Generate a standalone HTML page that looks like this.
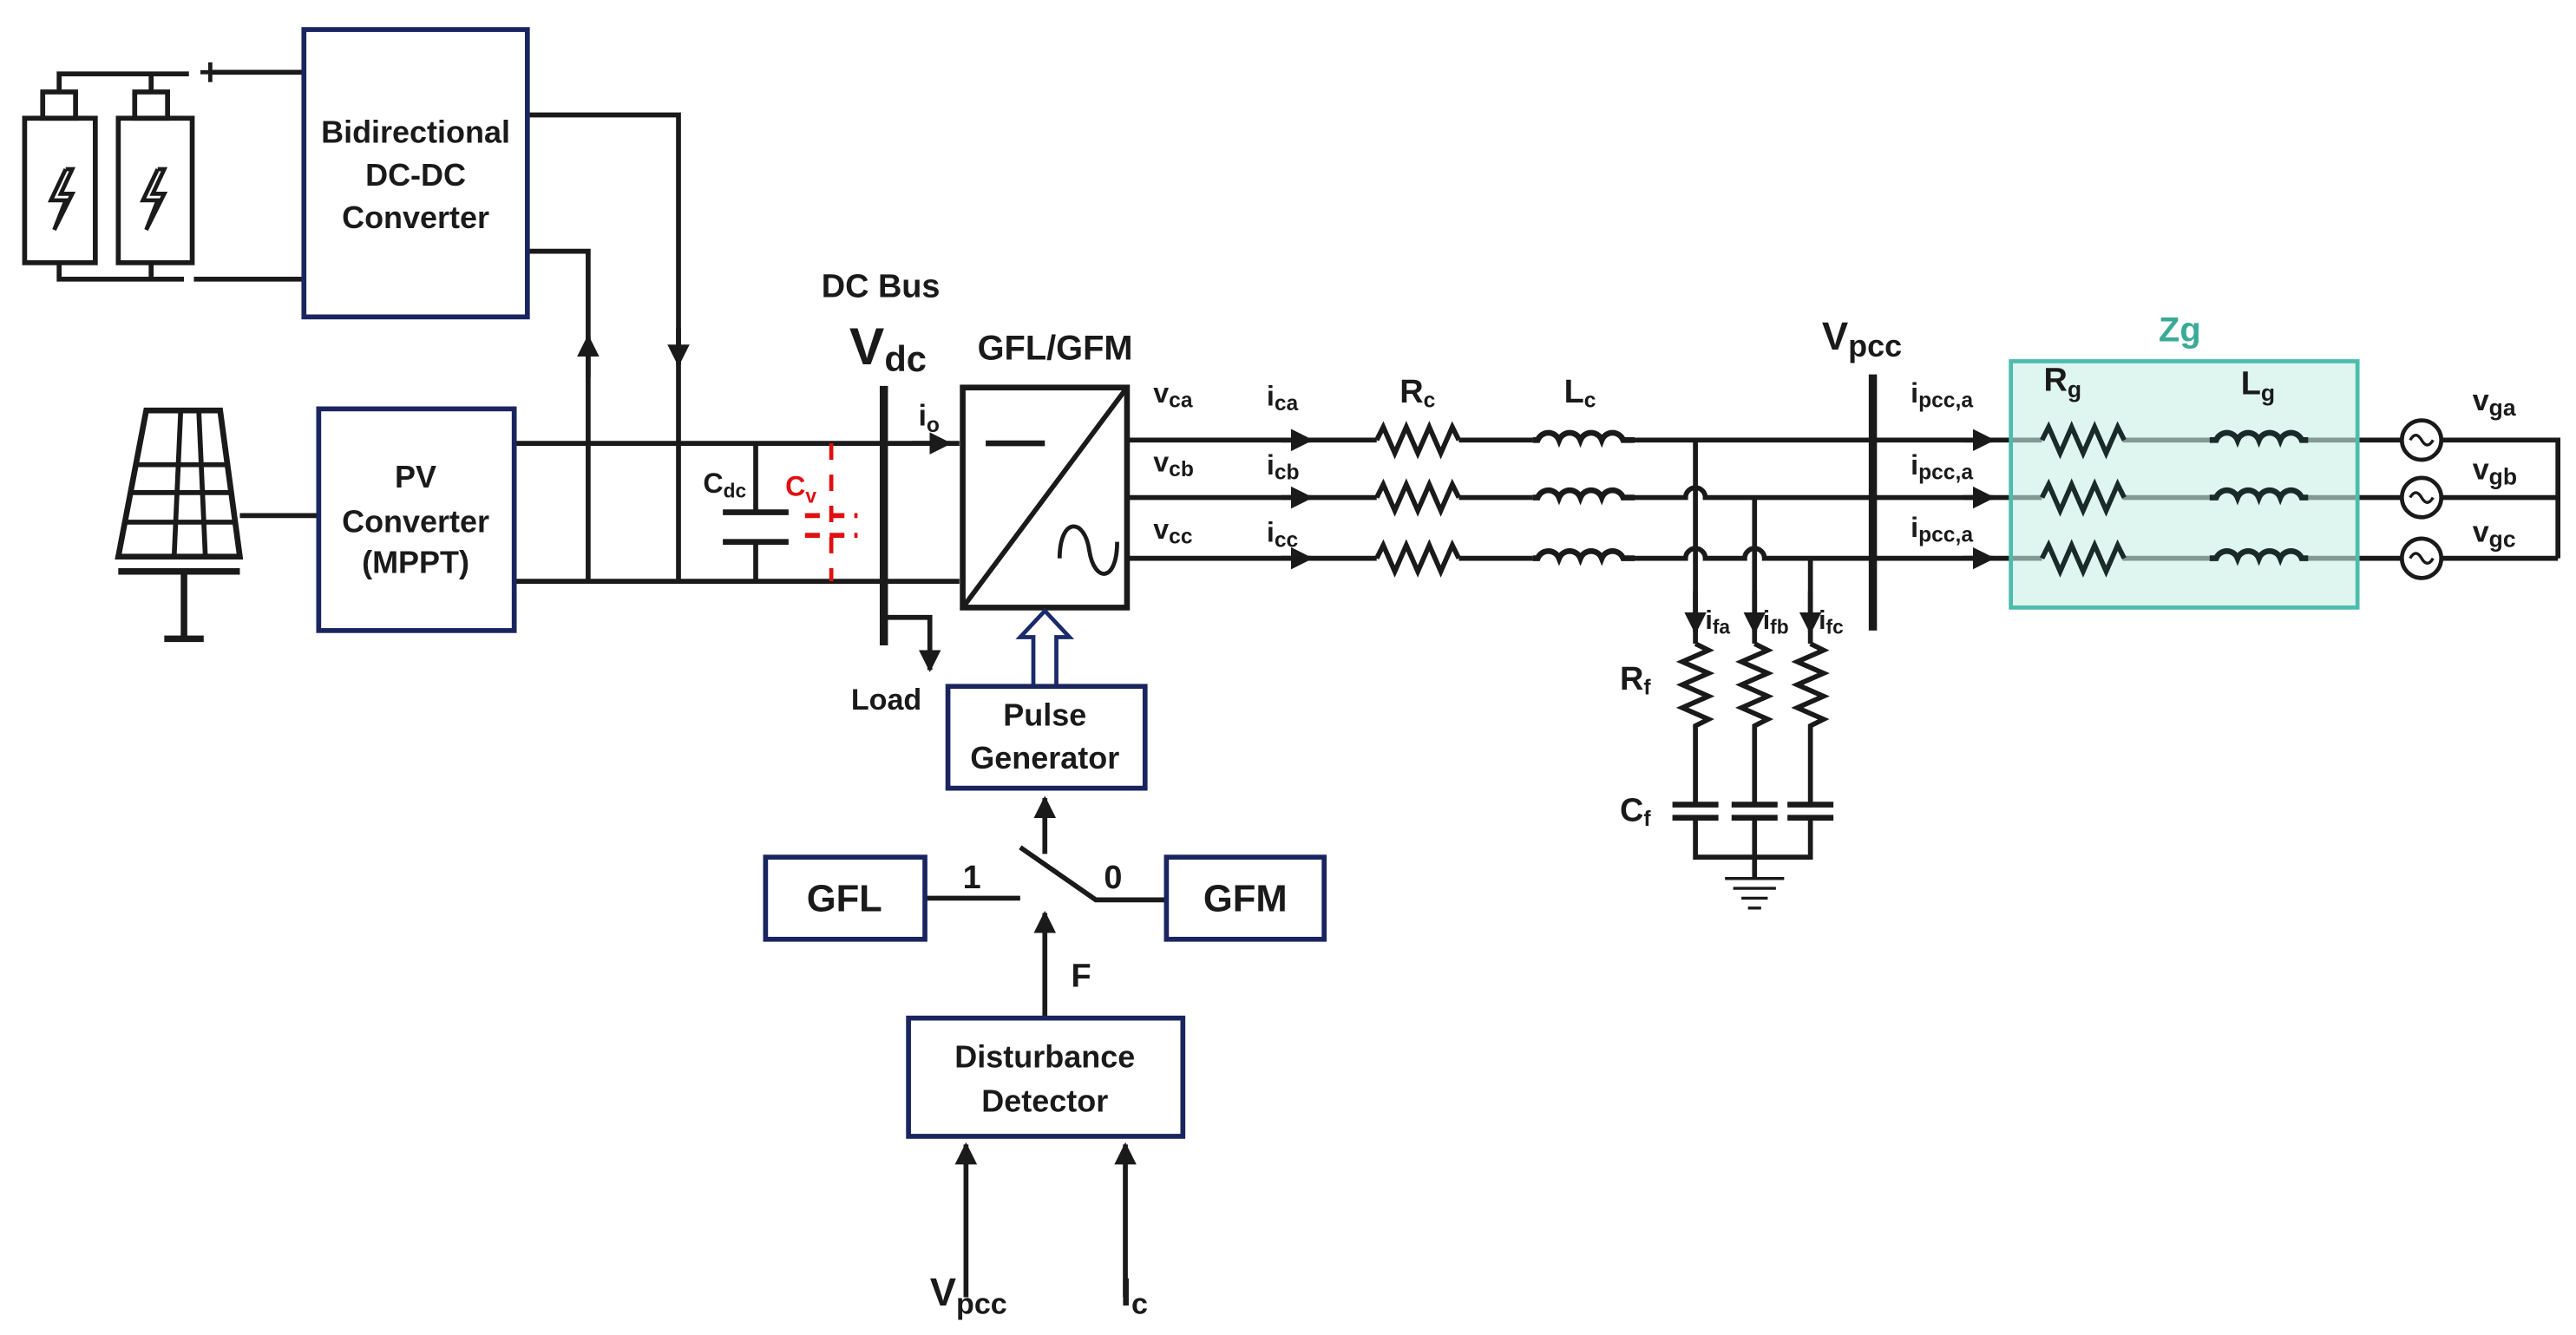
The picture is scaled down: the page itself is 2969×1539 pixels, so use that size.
<!DOCTYPE html>
<html><head><meta charset="utf-8"><style>
html,body{margin:0;padding:0;background:#fff;}
svg{display:block;}
text{font-family:"Liberation Sans",Arial,sans-serif;font-weight:bold;fill:#1a1a1a;}
</style></head><body>
<svg width="2969" height="1539" viewBox="0 0 1568 813" preserveAspectRatio="none" xmlns="http://www.w3.org/2000/svg">
<defs>
<marker id="ar" viewBox="0 0 10 10" refX="9" refY="5" markerWidth="4.5" markerHeight="4.5" orient="auto"><path d="M0,0 L10,5 L0,10 z" fill="#1a1a1a"/></marker>
</defs>
<g stroke="#1a1a1a" stroke-width="3" fill="none">
<!-- batteries -->
<rect x="15" y="72" width="43" height="88"/>
<rect x="72" y="72" width="45" height="88"/>
<rect x="26" y="56" width="20" height="16"/>
<rect x="82" y="56" width="20" height="16"/>
<path d="M36 56 V45 H115 M92 45 V56"/>
<path d="M127 44 H185"/>
<path d="M36 160 V170 H112 M92 160 V170 M118 170 H185"/>
<path d="M122 44 H134 M128 38 V50" stroke-width="2.5"/>
<path d="M40 103 L31 122 H40 L33 140 M40 103 L44 103 L37 118 H44 L33 140" stroke-width="2.5"/>
<path d="M96 103 L87 122 H96 L89 140 M96 103 L100 103 L93 118 H100 L89 140" stroke-width="2.5"/>
<!-- solar -->
<path d="M89 250 H134 L146 339 H72 Z" stroke-width="3.5"/>
<path d="M83 283 H138 M80 300 H141 M76 318 H143 M110 250 L106 339 M121 250 L125 339" stroke-width="3"/>
<path d="M72 348 H146 M112 348 V388 M100 389 H124" stroke-width="4"/>
<path d="M146 314 H194"/>
<!-- DC wires -->
<path d="M313 270 H584"/>
<path d="M313 354 H584"/>
<path d="M321 70 H413 V354"/>
<path d="M413 200 V222" marker-end="url(#ar)"/>
<path d="M321 153 H358 V354"/>
<path d="M358 230 V205" marker-end="url(#ar)"/>
<path d="M460 270 V312 M460 330 V354"/>
<path d="M440 312 H480 M440 330 H480" stroke-width="3.5"/>
<path d="M506 270 V354" stroke="#e01010" stroke-dasharray="10,9" stroke-width="2.5"/>
<path d="M490 314 H522 M490 326 H522" stroke="#e01010" stroke-dasharray="9,6" stroke-width="3"/>
<path d="M538 235 V393" stroke-width="5"/>
<path d="M555 270 H578" marker-end="url(#ar)"/>
<path d="M540 376 H566 V408" marker-end="url(#ar)"/>
<!-- converter -->
<rect x="586" y="236" width="100" height="134" stroke-width="3.5"/>
<path d="M586 370 L686 236" stroke-width="3"/>
<path d="M600 270 H636" stroke-width="3.5"/>
<path d="M645 340 C645 315 660 315 663 335 C666 355 680 355 680 330" stroke-width="2.5"/>
<!-- hollow arrow -->
<path d="M629 418 V388 H621 L636 372 L651 388 H643 V418" stroke="#1a2a6a" stroke-width="2.5" fill="#fff"/>
<!-- switch -->
<path d="M636 520 V486" marker-end="url(#ar)"/>
<path d="M563 547 H621"/>
<path d="M621 516 L667 548 H710"/>
<path d="M636 620 V556" marker-end="url(#ar)"/>
<path d="M588 790 V697" marker-end="url(#ar)"/>
<path d="M685 790 V697" marker-end="url(#ar)"/>
<!-- phase lines -->
<path d="M686 268 H838 M888 268 H933 M995 268 H1140 M1140 268 H1243 M1292 268 H1345 M1405 268 H1462 M1486 268 H1557 V340"/>
<path d="M686 303 H838 M888 303 H933 M995 303 H1026 a6 6 0 0 1 12 0 H1140 H1243 M1292 303 H1345 M1405 303 H1462 M1486 303 H1557"/>
<path d="M686 340 H838 M888 340 H933 M995 340 H1026 a6 6 0 0 1 12 0 H1062 a6 6 0 0 1 12 0 H1243 M1292 340 H1345 M1405 340 H1462 M1486 340 H1557"/>
<path d="M780 268 H798" marker-end="url(#ar)"/>
<path d="M780 303 H798" marker-end="url(#ar)"/>
<path d="M780 340 H798" marker-end="url(#ar)"/>
<path d="M1195 268 H1213" marker-end="url(#ar)"/>
<path d="M1195 303 H1213" marker-end="url(#ar)"/>
<path d="M1195 340 H1213" marker-end="url(#ar)"/>
<!-- Rc -->
<path d="M838 268 l4 -8 l7 16 l7 -16 l7 16 l7 -16 l7 16 l7 -16 l4 8 M838 303 l4 -8 l7 16 l7 -16 l7 16 l7 -16 l7 16 l7 -16 l4 8 M838 340 l4 -8 l7 16 l7 -16 l7 16 l7 -16 l7 16 l7 -16 l4 8"/>
<!-- Lc -->
<path d="M933 268 h3 a7 7 0 0 1 13 0 a7 7 0 0 1 13 0 a7 7 0 0 1 13 0 a7 7 0 0 1 13 0 h7 M933 303 h3 a7 7 0 0 1 13 0 a7 7 0 0 1 13 0 a7 7 0 0 1 13 0 a7 7 0 0 1 13 0 h7 M933 340 h3 a7 7 0 0 1 13 0 a7 7 0 0 1 13 0 a7 7 0 0 1 13 0 a7 7 0 0 1 13 0 h7" stroke-width="3.5"/>
<!-- filter -->
<path d="M1032 268 V392 M1068 303 V392 M1102 340 V392"/>
<path d="M1032 360 V385" marker-end="url(#ar)"/>
<path d="M1068 360 V385" marker-end="url(#ar)"/>
<path d="M1102 360 V385" marker-end="url(#ar)"/>
<path d="M1032 392 l8 4 l-16 7 l16 7 l-16 7 l16 7 l-16 7 l16 7 l-8 4 V490 M1068 392 l8 4 l-16 7 l16 7 l-16 7 l16 7 l-16 7 l16 7 l-8 4 V490 M1102 392 l8 4 l-16 7 l16 7 l-16 7 l16 7 l-16 7 l16 7 l-8 4 V490"/>
<path d="M1018 490 H1046 M1018 498 H1046 M1054 490 H1082 M1054 498 H1082 M1088 490 H1116 M1088 498 H1116" stroke-width="3.5"/>
<path d="M1032 498 V522 H1102 V498 M1068 498 V535"/>
<path d="M1050 535 H1086 M1055 541 H1081 M1060 547 H1076 M1064 553 H1072" stroke-width="1.8"/>
<path d="M1140 228 V384" stroke-width="5"/>
</g>
<!-- Zg box -->
<rect x="1224" y="220" width="211" height="150" fill="#c9eee6" fill-opacity="0.6" stroke="#4cbcad" stroke-width="2.5"/>
<g stroke="#1a2a28" stroke-width="3" fill="none">
<path d="M1243 268 l4 -8 l7 16 l7 -16 l7 16 l7 -16 l7 16 l7 -16 l4 8 M1243 303 l4 -8 l7 16 l7 -16 l7 16 l7 -16 l7 16 l7 -16 l4 8 M1243 340 l4 -8 l7 16 l7 -16 l7 16 l7 -16 l7 16 l7 -16 l4 8"/>
<path d="M1345 268 h4 a7 7 0 0 1 13 0 a7 7 0 0 1 13 0 a7 7 0 0 1 13 0 a7 7 0 0 1 13 0 h4 M1345 303 h4 a7 7 0 0 1 13 0 a7 7 0 0 1 13 0 a7 7 0 0 1 13 0 a7 7 0 0 1 13 0 h4 M1345 340 h4 a7 7 0 0 1 13 0 a7 7 0 0 1 13 0 a7 7 0 0 1 13 0 a7 7 0 0 1 13 0 h4" stroke-width="3.5"/>
</g>
<g stroke="#1a1a1a" stroke-width="2.5" fill="none">
<circle cx="1474" cy="268" r="12"/><circle cx="1474" cy="303" r="12"/><circle cx="1474" cy="340" r="12"/>
<path d="M1467 268 q3.5 -6 7 0 q3.5 6 7 0 M1467 303 q3.5 -6 7 0 q3.5 6 7 0 M1467 340 q3.5 -6 7 0 q3.5 6 7 0" stroke-width="1.8"/>
</g>
<!-- blue boxes -->
<g stroke="#1a2560" stroke-width="3" fill="none">
<rect x="185" y="18" width="136" height="175"/>
<rect x="194" y="249" width="119" height="135"/>
<rect x="577" y="418" width="120" height="62"/>
<rect x="466" y="522" width="97" height="50"/>
<rect x="710" y="522" width="96" height="50"/>
<rect x="553" y="620" width="167" height="72"/>
</g>
<!-- text -->
<g font-size="19" text-anchor="middle">
<text x="253" y="87">Bidirectional</text>
<text x="253" y="113">DC-DC</text>
<text x="253" y="139">Converter</text>
<text x="253" y="297">PV</text>
<text x="253" y="324">Converter</text>
<text x="253" y="349">(MPPT)</text>
<text x="636" y="442">Pulse</text>
<text x="636" y="468">Generator</text>
<text x="636" y="650">Disturbance</text>
<text x="636" y="677">Detector</text>
<text x="514" y="555" font-size="23">GFL</text>
<text x="758" y="555" font-size="23">GFM</text>
</g>
<g font-size="20">
<text x="500" y="181">DC Bus</text>
<text x="517" y="222" font-size="32">V<tspan font-size="22" dy="4">dc</tspan></text>
<text x="595" y="219" font-size="21">GFL/GFM</text>
<text x="559" y="259" font-size="18">i<tspan font-size="13" dy="4">o</tspan></text>
<text x="518" y="432" font-size="18">Load</text>
<text x="586" y="541">1</text>
<text x="672" y="541">0</text>
<text x="652" y="601">F</text>
<text x="566" y="795" font-size="24">V<tspan font-size="18" dy="5">pcc</tspan></text>
<text x="682" y="795" font-size="24">I<tspan font-size="18" dy="5">c</tspan></text>
<text x="428" y="300" font-size="17">C<tspan font-size="12" dy="3">dc</tspan></text>
<text x="478" y="302" font-size="17" style="fill:#e01010">C<tspan font-size="12" dy="4">v</tspan></text>
<text x="702" y="245" font-size="17">v<tspan font-size="13" dy="3">ca</tspan></text>
<text x="702" y="287" font-size="17">v<tspan font-size="13" dy="3">cb</tspan></text>
<text x="702" y="328" font-size="17">v<tspan font-size="13" dy="3">cc</tspan></text>
<text x="771" y="247" font-size="17">i<tspan font-size="13" dy="3">ca</tspan></text>
<text x="771" y="289" font-size="17">i<tspan font-size="13" dy="3">cb</tspan></text>
<text x="771" y="330" font-size="17">i<tspan font-size="13" dy="3">cc</tspan></text>
<text x="852" y="245">R<tspan font-size="13" dy="3">c</tspan></text>
<text x="952" y="245">L<tspan font-size="13" dy="3">c</tspan></text>
<text x="1109" y="213" font-size="24">V<tspan font-size="19" dy="4">pcc</tspan></text>
<text x="1038" y="383" font-size="16">i<tspan font-size="12" dy="3">fa</tspan></text>
<text x="1073" y="383" font-size="16">i<tspan font-size="12" dy="3">fb</tspan></text>
<text x="1107" y="383" font-size="16">i<tspan font-size="12" dy="3">fc</tspan></text>
<text x="986" y="420">R<tspan font-size="13" dy="3">f</tspan></text>
<text x="986" y="500">C<tspan font-size="13" dy="3">f</tspan></text>
<text x="1163" y="245" font-size="17">i<tspan font-size="13" dy="3">pcc,a</tspan></text>
<text x="1163" y="289" font-size="17">i<tspan font-size="13" dy="3">pcc,a</tspan></text>
<text x="1163" y="327" font-size="17">i<tspan font-size="13" dy="3">pcc,a</tspan></text>
<text x="1314" y="208" font-size="21" style="fill:#3aaa98">Zg</text>
<text x="1244" y="238">R<tspan font-size="14" dy="4">g</tspan></text>
<text x="1364" y="240">L<tspan font-size="14" dy="4">g</tspan></text>
<text x="1505" y="250" font-size="18">v<tspan font-size="14" dy="3">ga</tspan></text>
<text x="1505" y="292" font-size="18">v<tspan font-size="14" dy="3">gb</tspan></text>
<text x="1505" y="330" font-size="18">v<tspan font-size="14" dy="3">gc</tspan></text>
</g>
</svg>
</body></html>
